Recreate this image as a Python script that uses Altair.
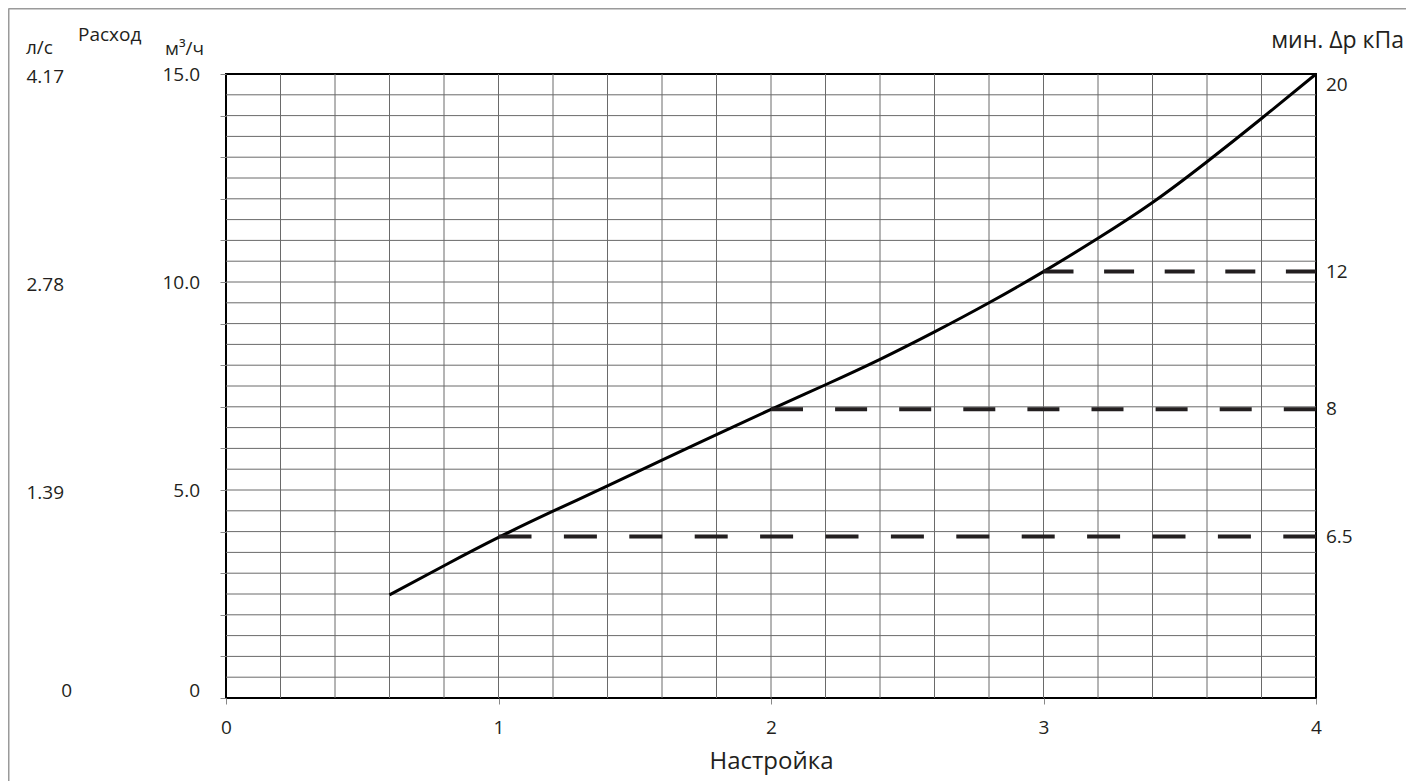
import altair as alt
import pandas as pd

# ---- data ----
setting = [0.6, 0.8, 1.0, 1.2, 1.4, 1.6, 1.8, 2.0, 2.2, 2.4, 2.6, 2.8, 3.0, 3.2, 3.4, 3.6, 3.8, 4.0]
flow_m3h = [2.48, 3.18, 3.86, 4.49, 5.10, 5.72, 6.33, 6.94, 7.53, 8.14, 8.80, 9.50,
            10.25, 11.05, 11.91, 12.89, 13.93, 15.0]

dp_label = ["6.5", "8", "12"]
dp_start = [1, 2, 3]
dp_end = [4, 4, 4]
dp_flow = [3.88, 6.94, 10.25]
dp_top_label = ["20"]
dp_top_flow = [15.0]
dp_top_setting = [4]

flow_ticks = [5.0, 10.0, 15.0]
flow_tick_labels = ["5.0", "10.0", "15.0"]
ls_tick_labels = ["1.39", "2.78", "4.17"]
zero_value = [0]
zero_label = ["0"]

x_ticks = [0, 1, 2, 3, 4]
y_ticks = list(range(16))
x_grid = [round(0.2 * i, 1) for i in range(1, 20)]
y_grid = [round(0.5 * i, 1) for i in range(1, 30)]

FONT = "Open Sans"
TXT = "#231f20"
LBL = 19

xs = alt.Scale(domain=[0, 4], nice=False, zero=False)
ys = alt.Scale(domain=[0, 15], nice=False, zero=False)

x_axis = alt.Axis(
    values=x_ticks, format="d", tickSize=6, tickColor="#888", tickWidth=1,
    domain=False, grid=False, labelFont=FONT, labelFontSize=LBL, labelColor=TXT,
    labelFlush=False, labelPadding=14, title="Настройка", titleFont=FONT,
    titleFontSize=24, titleFontWeight="normal", titleColor=TXT, titlePadding=12)
y_axis = alt.Axis(
    values=y_ticks, labels=False, tickSize=6, tickColor="#888", tickWidth=1,
    domain=False, grid=False, title=None)


def X(field):
    return alt.X(field, scale=xs, axis=x_axis)


def Y(field):
    return alt.Y(field, scale=ys, axis=y_axis)


curve_df = pd.DataFrame({"setting": setting, "flow": flow_m3h})
dp_df = pd.DataFrame({"label": dp_label, "start": dp_start, "end": dp_end, "flow": dp_flow})
top_df = pd.DataFrame({"label": dp_top_label, "flow": dp_top_flow, "setting": dp_top_setting})
lab_df = pd.DataFrame({"v": flow_ticks, "m3h": flow_tick_labels, "ls": ls_tick_labels})
zero_df = pd.DataFrame({"v": zero_value, "t": zero_label})
gx_df = pd.DataFrame({"gx": x_grid})
gy_df = pd.DataFrame({"gy": y_grid})

grid_x = alt.Chart(gx_df).mark_rule(color="#6a6a6a", strokeWidth=1).encode(x=X("gx:Q"))
grid_y = alt.Chart(gy_df).mark_rule(color="#6a6a6a", strokeWidth=1).encode(y=Y("gy:Q"))

curve = alt.Chart(curve_df).mark_line(color="black", strokeWidth=3, interpolate="natural").encode(
    x=X("setting:Q"), y=Y("flow:Q"))

dashes = alt.Chart(dp_df).mark_rule(color=TXT, strokeWidth=4).encode(
    x=X("start:Q"),
    x2="end:Q",
    y=Y("flow:Q"),
    strokeDash=alt.StrokeDash("label:N", legend=None, scale=alt.Scale(
        domain=dp_label, range=[[33, 32.4], [32, 32.1], [30, 30.6]])),
)

right_labels = alt.Chart(dp_df).mark_text(align="left", baseline="middle", dx=10,
                                          font=FONT, fontSize=LBL, color=TXT).encode(
    x=X("end:Q"), y=Y("flow:Q"), text="label:N")
top_label = alt.Chart(top_df).mark_text(align="left", baseline="top", dx=10, dy=2,
                                        font=FONT, fontSize=LBL, color=TXT).encode(
    x=X("setting:Q"), y=Y("flow:Q"), text="label:N")

m3h_labels = alt.Chart(lab_df).mark_text(align="right", baseline="middle", dy=1,
                                         font=FONT, fontSize=LBL, color=TXT).encode(
    x=alt.value(-26), y=Y("v:Q"), text="m3h:N")
ls_labels = alt.Chart(lab_df).mark_text(align="right", baseline="middle", dy=3,
                                        font=FONT, fontSize=LBL, color=TXT).encode(
    x=alt.value(-162), y=Y("v:Q"), text="ls:N")
zero_m3h = alt.Chart(zero_df).mark_text(align="right", baseline="bottom", dy=3,
                                        font=FONT, fontSize=LBL, color=TXT).encode(
    x=alt.value(-26), y=Y("v:Q"), text="t:N")
zero_ls = alt.Chart(zero_df).mark_text(align="right", baseline="bottom", dy=3,
                                       font=FONT, fontSize=LBL, color=TXT).encode(
    x=alt.value(-154), y=Y("v:Q"), text="t:N")


def header(text, x, y, size, align="left"):
    return alt.Chart(pd.DataFrame({"t": [text]})).mark_text(
        align=align, baseline="middle", font=FONT, fontSize=size, color=TXT
    ).encode(x=alt.value(x), y=alt.value(y), text="t:N")


h_ls = header("л/с", -200, -26, LBL)
h_flow = header("Расход", -148, -39, LBL)
h_m3h = header("м³/ч", -61, -25, LBL)
h_dp = header("мин. Δр кПа", 1178, -33, 23, align="right")

frame_df = pd.DataFrame({"k": [0]})
frame_left = alt.Chart(frame_df).mark_rule(color="#9a9a9a", strokeWidth=2).encode(
    x=alt.value(-217.5), y=alt.value(-65.5), y2=alt.value(707))
frame_top = alt.Chart(frame_df).mark_rule(color="#9a9a9a", strokeWidth=2).encode(
    x=alt.value(-217.5), x2=alt.value(1188), y=alt.value(-65.5))

chart = alt.layer(
    grid_x, grid_y, curve, dashes, right_labels, top_label,
    m3h_labels, ls_labels, zero_m3h, zero_ls,
    h_ls, h_flow, h_m3h, h_dp, frame_left, frame_top,
).properties(
    width=1090, height=624,
    autosize=alt.AutoSizeParams(type="none"),
    padding={"left": 218, "top": 66, "right": 90, "bottom": 83},
).configure_view(stroke="black", strokeWidth=2)

chart.save("out.html", embed_options={"renderer": "svg", "actions": False})
